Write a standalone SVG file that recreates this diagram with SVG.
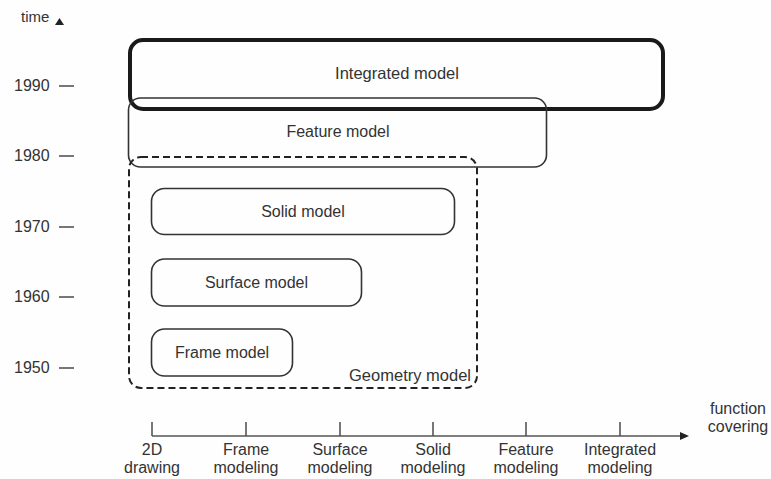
<svg xmlns="http://www.w3.org/2000/svg" width="771" height="479" viewBox="0 0 771 479">
<style>
  text { font-family: "Liberation Sans", Arial, sans-serif; fill: #333; }
  .lbl { font-size: 16px; text-anchor: middle; }
  .yr { font-size: 16px; }
  .ax { font-size: 16px; text-anchor: middle; }
  .box { fill: none; stroke: #333; stroke-width: 1.6; }
  .tick { stroke: #555; stroke-width: 1.6; }
</style>
<rect width="771" height="479" fill="#fefefe"/>

<g id="time-axis">
  <text class="yr" x="21" y="22" style="font-size:15px">time</text>
  <polygon points="55,25 64,25 59.5,18" fill="#222"/>
  <text class="yr" x="14" y="91">1990</text>
  <line class="tick" x1="59" y1="86" x2="74" y2="86"/>
  <text class="yr" x="14" y="161">1980</text>
  <line class="tick" x1="59" y1="156" x2="74" y2="156"/>
  <text class="yr" x="14" y="232">1970</text>
  <line class="tick" x1="59" y1="227" x2="74" y2="227"/>
  <text class="yr" x="14" y="302">1960</text>
  <line class="tick" x1="59" y1="297" x2="74" y2="297"/>
  <text class="yr" x="14" y="373">1950</text>
  <line class="tick" x1="59" y1="368" x2="74" y2="368"/>
</g>

<g id="integrated">
  <rect x="130" y="40" width="533" height="69" rx="13" fill="none" stroke="#1a1a1a" stroke-width="4"/>
  <text class="lbl" x="397" y="79" style="font-size:16.5px">Integrated model</text>
</g>

<g id="feature">
  <rect class="box" x="128.5" y="98" width="418" height="69" rx="12"/>
  <text class="lbl" x="338" y="137">Feature model</text>
</g>

<g id="geometry">
  <rect x="129" y="157" width="348" height="231" rx="12" fill="none" stroke="#222" stroke-width="2" stroke-dasharray="7 4"/>
  <text x="471" y="381" style="font-size:16.5px;text-anchor:end">Geometry model</text>
</g>

<g id="solid">
  <rect class="box" x="151.5" y="188.5" width="303" height="46" rx="13"/>
  <text class="lbl" x="303" y="217">Solid model</text>
</g>

<g id="surface">
  <rect class="box" x="151.5" y="259" width="210" height="47" rx="13"/>
  <text class="lbl" x="256.5" y="288">Surface model</text>
</g>

<g id="frame">
  <rect class="box" x="151.5" y="329" width="141" height="47" rx="13"/>
  <text class="lbl" x="222" y="358">Frame model</text>
</g>

<g id="function-axis">
  <line class="tick" x1="152" y1="436" x2="681" y2="436"/>
  <polygon points="680,432 689,436 680,440" fill="#222"/>
  <line class="tick" x1="152" y1="422" x2="152" y2="436"/>
  <line class="tick" x1="246" y1="422" x2="246" y2="436"/>
  <line class="tick" x1="340" y1="422" x2="340" y2="436"/>
  <line class="tick" x1="433" y1="422" x2="433" y2="436"/>
  <line class="tick" x1="526" y1="422" x2="526" y2="436"/>
  <line class="tick" x1="620" y1="422" x2="620" y2="436"/>
  <text class="ax" x="152" y="455">2D</text>
  <text class="ax" x="152" y="473">drawing</text>
  <text class="ax" x="246" y="455">Frame</text>
  <text class="ax" x="246" y="473">modeling</text>
  <text class="ax" x="340" y="455">Surface</text>
  <text class="ax" x="340" y="473">modeling</text>
  <text class="ax" x="433" y="455">Solid</text>
  <text class="ax" x="433" y="473">modeling</text>
  <text class="ax" x="526" y="455">Feature</text>
  <text class="ax" x="526" y="473">modeling</text>
  <text class="ax" x="620" y="455">Integrated</text>
  <text class="ax" x="620" y="473">modeling</text>
  <text class="ax" x="738" y="414">function</text>
  <text class="ax" x="738" y="432">covering</text>
</g>
</svg>
